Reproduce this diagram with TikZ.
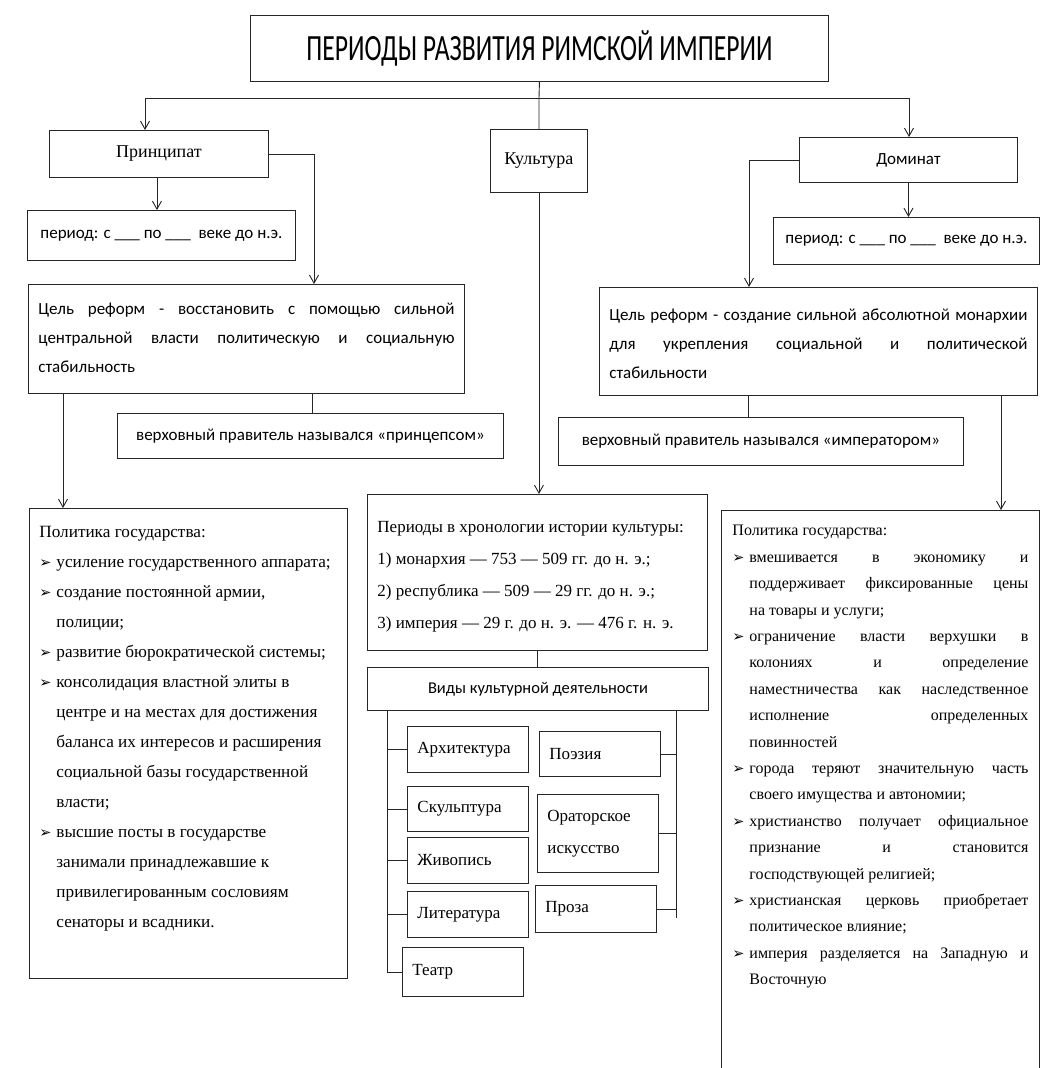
\documentclass[tikz,border=0pt]{standalone}
\usepackage{fontspec}
\setmainfont{Liberation Serif}
\newfontfamily\carl{Carlito}
\newfontfamily\dejavu{DejaVu Sans}
\usepackage{graphicx}
\usetikzlibrary{arrows.meta,calc}
\newlength\bulind
\newcommand\bulsym{{\dejavu\fontsize{14.5}{14.5}\selectfont ➢}}
\newcommand\plainline[1]{\par\noindent#1}
\newcommand\bitemL[1]{\par\noindent\makebox[\bulind][l]{\bulsym}#1}
\newcommand\bitemJ[1]{\par\noindent\makebox[\bulind][l]{\bulsym}\makebox[\dimexpr\linewidth-\bulind\relax][s]{#1}}
\newcommand\contL[1]{\par\noindent\hspace*{\bulind}#1}
\newcommand\contJ[1]{\par\noindent\hspace*{\bulind}\makebox[\dimexpr\linewidth-\bulind\relax][s]{#1}}
\newcommand\justline[1]{\par\noindent\makebox[\linewidth][s]{#1}}
% \boxtext{H}{W}{first baseline}{pad}{content}
\newcommand\boxtext[5]{\parbox[c][#1][t]{#2}{\vspace*{\dimexpr#3-12pt\relax}\hspace*{#4}\parbox[t]{\dimexpr#2-#4-#4\relax}{\parskip=0pt\relax#5}}}
\tikzset{
  box/.style={draw=black!85, line width=0.9pt, inner sep=0pt, anchor=north west, align=center},
  ln/.style={draw=black!85, line width=0.9pt},
  arr/.style={ln, -{Straight Barb[length=8pt,width=9pt]}},
  serif17/.style={font=\fontsize{17}{20}\selectfont},
  sans17/.style={font=\carl\fontsize{17}{20}\selectfont},
  item/.style={box, serif17, align=left, inner xsep=10pt, text width=101pt},
}
\begin{document}
\begin{tikzpicture}[x=1pt,y=-1pt]
\useasboundingbox (0,0) rectangle (1045,1068);
\clip (0,0) rectangle (1045,1068);
\fill[white] (0,0) rectangle (1045,1068);

% title
\node[box, minimum width=578, minimum height=66] (title) at (250,15)
  {\resizebox{466pt}{\height}{\carl\fontsize{37}{37}\selectfont ПЕРИОДЫ РАЗВИТИЯ РИМСКОЙ ИМПЕРИИ}};
\coordinate (hub) at (539,98);

% level 1
\node[box, minimum width=219, minimum height=47, font=\fontsize{18}{20}\selectfont] (princ) at (49,130) {Принципат};
\node[box, minimum width=97, minimum height=63, font=\fontsize{18}{20}\selectfont] (kult) at (490,129) {Культура};
\node[box, minimum width=218, minimum height=45, sans17] (dom) at (799,137) {Доминат};

% periods
\node[box, minimum width=268, minimum height=50, sans17] (perL) at (27,210) {период: с \_\_\_ по \_\_\_ \ веке до н.э.};
\node[box, minimum width=266, minimum height=47, sans17] (perR) at (773,217) {период: с \_\_\_ по \_\_\_ \ веке до н.э.};

% goals
\node[box] (celL) at (28,284) {\boxtext{109pt}{436pt}{31pt}{10pt}{\carl\fontsize{17}{29}\selectfont
  \justline{Цель реформ - восстановить с помощью сильной}
  \justline{центральной власти политическую и социальную}
  \plainline{стабильность}}};
\node[box] (celR) at (599,287) {\boxtext{108pt}{438pt}{33pt}{10pt}{\carl\fontsize{17}{29}\selectfont
  \justline{Цель реформ - создание сильной абсолютной монархии}
  \justline{для укрепления социальной и политической}
  \plainline{стабильности}}};

% rulers
\node[box, minimum width=386, minimum height=45, sans17] (verL) at (117,413) {верховный правитель назывался «принцепсом»};
\node[box, minimum width=405, minimum height=48, sans17] (verR) at (558,417) {верховный правитель назывался «императором»};

% policies
\node[box] (polL) at (29,508) {\boxtext{470pt}{318pt}{30pt}{10pt}{\fontsize{17.2}{30}\selectfont\setlength\bulind{17pt}%
  \plainline{Политика государства:}
  \bitemL{усиление государственного аппарата;}
  \bitemL{создание постоянной армии,}
  \contL{полиции;}
  \bitemL{развитие бюрократической системы;}
  \bitemL{консолидация властной элиты в}
  \contL{центре и на местах для достижения}
  \contL{баланса их интересов и расширения}
  \contL{социальной базы государственной}
  \contL{власти;}
  \bitemL{высшие посты в государстве}
  \contL{занимали принадлежавшие к}
  \contL{привилегированным сословиям}
  \contL{сенаторы и всадники.}}};

\node[box] (polR) at (721,510) {\boxtext{600pt}{318pt}{27pt}{11pt}{\fontsize{16}{26.4}\selectfont\setlength\bulind{17pt}%
  \plainline{Политика государства:}
  \bitemJ{вмешивается в экономику и}
  \contJ{поддерживает фиксированные цены}
  \contL{на товары и услуги;}
  \bitemJ{ограничение власти верхушки в}
  \contJ{колониях и определение}
  \contJ{наместничества как наследственное}
  \contJ{исполнение определенных}
  \contL{повинностей}
  \bitemJ{города теряют значительную часть}
  \contL{своего имущества и автономии;}
  \bitemJ{христианство получает официальное}
  \contJ{признание и становится}
  \contL{господствующей религией;}
  \bitemJ{христианская церковь приобретает}
  \contL{политическое влияние;}
  \bitemJ{империя разделяется на Западную и}
  \contL{Восточную}}};

% culture
\node[box] (perC) at (367,494) {\boxtext{156pt}{340pt}{39pt}{10pt}{\fontsize{17}{32}\selectfont
  \plainline{Периоды в хронологии истории культуры:}
  \plainline{1) монархия — 753 — 509 гг. до н. э.;}
  \plainline{2) республика — 509 — 29 гг. до н. э.;}
  \plainline{3) империя — 29 г. до н. э. — 476 г. н. э.}}};
\node[box, minimum width=341, minimum height=43, font=\carl\fontsize{16.5}{20}\selectfont] (vidy) at (367,667) {Виды культурной деятельности};

\node[item, minimum height=46] (arch) at (407,726) {Архитектура};
\node[item, minimum height=45] (poez) at (539,731) {Поэзия};
\node[item, minimum height=45] (skul) at (407,786) {Скульптура};
\node[item, minimum height=78, font=\fontsize{17}{32}\selectfont] (orat) at (537,794) {Ораторское\\искусство};
\node[item, minimum height=46] (zhiv) at (407,837) {Живопись};
\node[item, minimum height=46] (lit) at (407,891) {Литература};
\node[item, minimum height=47] (proza) at (535,885) {Проза};
\node[item, minimum height=49] (teatr) at (402,947) {Театр};

% connectors
\coordinate (xPa) at (145,0);
\coordinate (xDa) at (909,0);
\coordinate (xPb) at (314,0);
\coordinate (xDb) at (749,0);
\coordinate (xL1) at (63,0);
\coordinate (xL2) at (312,0);
\coordinate (xR1) at (748,0);
\coordinate (xR2) at (1001,0);
\coordinate (xV) at (387,0);
\coordinate (xW) at (676,0);
\coordinate (wEnd) at (676,918);

\draw[ln] (title.south) -- (hub);
\draw[ln] (hub -| xPa) -- (hub -| xDa);
\draw[arr] (hub -| xPa) -- (princ.north -| xPa);
\draw[arr] (hub -| xDa) -- (dom.north -| xDa);
\draw[ln] (hub) -- (kult.north);

\draw[arr] ([xshift=-2pt]princ.south) -- ([xshift=-2pt]princ.south |- perL.north);
\draw[arr] (princ.east) -| (celL.north -| xPb);
\draw[arr] (celL.south -| xL1) -- (polL.north -| xL1);
\draw[ln] (celL.south -| xL2) -- (verL.north -| xL2);

\draw[arr] (kult.south) -- (kult.south |- perC.north);

\draw[arr] (dom.south) -- (dom.south |- perR.north);
\draw[arr] (dom.west) -| (celR.north -| xDb);
\draw[ln] (celR.south -| xR1) -- (verR.north -| xR1);
\draw[arr] (celR.south -| xR2) -- (polR.north -| xR2);

\draw[ln] (perC.south) -- (perC.south |- vidy.north);
\draw[ln] (vidy.south -| xV) |- (teatr.west);
\draw[ln] (arch.west) -- (arch.west -| xV);
\draw[ln] (skul.west) -- (skul.west -| xV);
\draw[ln] (zhiv.west) -- (zhiv.west -| xV);
\draw[ln] (lit.west) -- (lit.west -| xV);
\draw[ln] (vidy.south -| xW) -- (wEnd);
\draw[ln] (poez.east) -- (poez.east -| xW);
\draw[ln] (orat.east) -- (orat.east -| xW);
\draw[ln] (proza.east) -- (proza.east -| xW);
\end{tikzpicture}
\end{document}
